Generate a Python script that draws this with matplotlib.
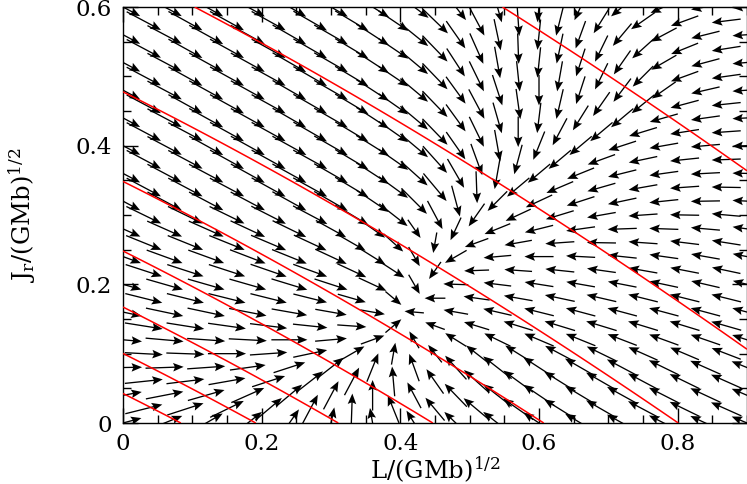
import numpy as np
import matplotlib
matplotlib.use("Agg")
import matplotlib.pyplot as plt
from matplotlib.ticker import MultipleLocator, FuncFormatter

plt.rcParams['font.family'] = ['DejaVu Serif']
plt.rcParams['mathtext.fontset'] = 'dejavuserif'

# lattice: column k at L = 0.03 k, row m at J = 0.02 m, only k%2 == m%2
L_STEP = 0.03
J_STEP = 0.02

# arrow direction (degrees) per row m (J = 0.02 m), left to right
ANGLE_ROWS = [
    [15, 22, 30, 38, 55, 78, 100, 122, 136, 142, 146, 149, 151, 153, 155, 157],
    [14, 18, 26, 40, 62, 88, 112, 130, 140, 145, 148, 150, 152, 154, 156],
    [10, 11, 16, 24, 40, 62, 90, 118, 134, 142, 146, 149, 151, 153, 155, 157],
    [6, 7, 10, 18, 38, 62, 95, 125, 138, 144, 148, 150, 152, 154, 156],
    [1, 2, 4, 8, 18, 38, 68, 110, 132, 142, 147, 150, 152, 154, 156, 158],
    [-3, -2, 0, 4, 12, 30, 80, 128, 142, 148, 152, 154, 156, 157, 159],
    [-5, -5, -4, -3, 0, 5, 20, 120, 148, 154, 157, 158, 159, 160, 161, 162],
    [-9, -9, -8, -7, -6, -4, 40, 160, 163, 163, 163, 163, 163, 163, 164],
    [-12, -12, -12, -11, -10, -10, -10, 175, 170, 167, 166, 165, 165, 165, 165, 165],
    [-14, -14, -14, -14, -14, -16, -40, 180, 172, 170, 168, 167, 166, 166, 166],
    [-16, -16, -16, -16, -17, -18, -25, -60, 178, 173, 171, 170, 169, 168, 167, 166],
    [-18, -18, -18, -19, -20, -25, -33, -125, -178, 176, 174, 172, 170, 169, 168],
    [-20, -20, -20, -21, -22, -25, -32, -60, -150, -175, 180, 177, 174, 172, 170, 169],
    [-22, -22, -22, -23, -25, -30, -42, -100, -160, -170, -176, 179, 176, 173, 171],
    [-24, -24, -24, -25, -26, -29, -35, -55, -115, -158, -166, -172, -178, 178, 175, 172],
    [-26, -26, -26, -27, -28, -31, -38, -62, -125, -155, -163, -170, -176, 179, 175],
    [-28, -28, -28, -28, -29, -30, -34, -45, -75, -135, -155, -162, -168, -174, -179, 177],
    [-28, -28, -28, -29, -29, -31, -36, -50, -88, -140, -157, -164, -170, -176, 179],
    [-28, -28, -28, -29, -29, -30, -33, -42, -60, -100, -140, -158, -166, -172, -177, 179],
    [-28, -28, -29, -29, -29, -31, -35, -48, -70, -105, -140, -160, -168, -174, -178],
    [-28, -28, -29, -29, -29, -30, -32, -40, -55, -80, -112, -140, -162, -170, -175, -178],
    [-28, -28, -29, -29, -30, -31, -35, -46, -64, -90, -118, -140, -163, -171, -176],
    [-28, -28, -29, -29, -30, -30, -33, -40, -54, -74, -97, -122, -140, -164, -172, -177],
    [-28, -29, -29, -29, -30, -31, -35, -46, -62, -82, -103, -125, -141, -165, -174],
    [-28, -28, -29, -29, -30, -30, -33, -40, -54, -72, -90, -108, -127, -145, -167, -176],
    [-28, -29, -29, -29, -30, -31, -34, -46, -64, -84, -100, -116, -135, -160, -172],
    [-28, -28, -29, -29, -30, -30, -33, -40, -57, -80, -96, -108, -125, -150, -165, -175],
    [-28, -29, -29, -29, -30, -31, -34, -46, -66, -88, -102, -116, -138, -158, -171],
    [-28, -28, -29, -29, -30, -30, -33, -39, -55, -78, -96, -110, -130, -152, -166, -176],
    [-28, -29, -29, -29, -30, -31, -34, -44, -62, -86, -104, -122, -145, -160, -173],
    [-28, -28, -29, -29, -30, -30, -32, -37, -52, -74, -96, -115, -140, -156, -170, -177],
]

# arrow length per row, in units of 0.001 (GMb)^1/2
LENGTH_ROWS = [
    [55, 55, 55, 52, 48, 46, 44, 42, 46, 52, 54, 52, 50, 48, 48, 48],
    [55, 55, 54, 50, 47, 45, 43, 43, 49, 53, 53, 51, 49, 48, 48],
    [55, 55, 55, 52, 48, 46, 44, 42, 46, 52, 54, 52, 50, 48, 48, 48],
    [55, 55, 54, 50, 47, 45, 43, 43, 49, 53, 53, 51, 49, 48, 48],
    [55, 55, 55, 52, 48, 46, 44, 42, 46, 52, 54, 52, 50, 48, 48, 48],
    [55, 55, 55, 54, 50, 42, 32, 32, 38, 44, 48, 47, 46, 45, 45],
    [55, 55, 55, 55, 52, 46, 36, 28, 36, 42, 46, 46, 45, 45, 45, 45],
    [55, 55, 55, 54, 50, 42, 30, 30, 38, 44, 46, 46, 45, 45, 45],
    [55, 55, 55, 55, 52, 46, 36, 28, 36, 42, 44, 44, 44, 44, 44, 44],
    [55, 55, 55, 54, 50, 42, 30, 30, 38, 42, 44, 44, 44, 44, 44],
    [55, 55, 55, 55, 54, 50, 44, 32, 36, 40, 42, 42, 42, 42, 42, 42],
    [55, 55, 55, 55, 52, 46, 38, 30, 36, 40, 42, 42, 42, 42, 42],
    [55, 55, 55, 55, 54, 50, 44, 32, 36, 40, 42, 42, 42, 42, 42, 42],
    [55, 55, 55, 55, 52, 46, 38, 30, 36, 40, 42, 42, 42, 42, 42],
    [55, 55, 55, 55, 54, 50, 44, 32, 36, 40, 42, 42, 42, 42, 42, 42],
    [56, 56, 56, 56, 56, 56, 52, 46, 40, 40, 42, 42, 42, 42, 42],
    [56, 56, 56, 56, 56, 56, 56, 52, 46, 40, 42, 42, 42, 42, 42, 42],
    [56, 56, 56, 56, 56, 56, 52, 52, 46, 42, 42, 42, 42, 42, 42],
    [56, 56, 56, 56, 56, 56, 56, 52, 48, 46, 42, 42, 42, 42, 42, 42],
    [56, 56, 56, 56, 56, 56, 52, 52, 48, 44, 42, 42, 42, 42, 42],
    [56, 56, 56, 56, 56, 56, 56, 52, 48, 46, 44, 42, 42, 42, 42, 42],
    [56, 56, 56, 56, 56, 56, 52, 52, 48, 44, 44, 42, 42, 42, 42],
    [56, 56, 56, 56, 56, 56, 56, 52, 48, 46, 44, 42, 42, 42, 42, 42],
    [56, 56, 56, 56, 56, 56, 52, 52, 48, 44, 44, 42, 42, 42, 42],
    [56, 56, 56, 56, 56, 56, 56, 52, 48, 46, 44, 42, 42, 42, 42, 42],
    [56, 56, 56, 56, 56, 56, 52, 52, 48, 44, 44, 42, 42, 42, 42],
    [56, 56, 56, 56, 56, 56, 56, 52, 48, 46, 44, 42, 42, 42, 42, 42],
    [56, 56, 56, 56, 56, 56, 52, 52, 48, 44, 44, 42, 42, 42, 42],
    [56, 56, 56, 56, 56, 56, 56, 52, 48, 46, 44, 42, 42, 42, 42, 42],
    [56, 56, 56, 56, 56, 56, 52, 52, 48, 44, 44, 42, 42, 42, 42],
    [56, 56, 56, 56, 56, 56, 56, 52, 48, 46, 44, 42, 42, 42, 42, 42],
]

# isochrone energy levels (GM/b units) of the red contours
ENERGY_LEVELS = [-0.460, -0.413, -0.367, -0.321, -0.275, -0.229, -0.183, -0.137]

X_TICKS = [0, 0.2, 0.4, 0.6, 0.8]
Y_TICKS = [0, 0.2, 0.4, 0.6]

xs, ys, us, vs = [], [], [], []
for m, (arow, lrow) in enumerate(zip(ANGLE_ROWS, LENGTH_ROWS)):
    ks = range(m % 2, 31, 2)
    for k, a, ln in zip(ks, arow, lrow):
        t = np.deg2rad(a)
        xs.append(k * L_STEP)
        ys.append(m * J_STEP)
        us.append(ln / 1000.0 * np.cos(t))
        vs.append(ln / 1000.0 * np.sin(t))

fig = plt.figure(figsize=(7.47, 4.84), dpi=100)
ax = fig.add_axes([123 / 747, 61 / 484, 624 / 747, 416 / 484])

ax.quiver(xs, ys, us, vs, angles='xy', scale_units='xy', scale=1, units='xy',
          width=0.0019, headwidth=6.5, headlength=8, headaxislength=6.8,
          pivot='middle', color='black', zorder=3)

Lg = np.linspace(0, 0.9, 500)
Jg = np.linspace(0, 0.6, 400)
LL, JJ = np.meshgrid(Lg, Jg)
H = -0.5 / (JJ + 0.5 * (LL + np.sqrt(LL ** 2 + 4.0))) ** 2
ax.contour(LL, JJ, H, levels=sorted(ENERGY_LEVELS), colors='red',
           linewidths=1.1, linestyles='solid', zorder=4)

ax.set_xlim(0, 0.9)
ax.set_ylim(0, 0.6)
ax.set_xticks(X_TICKS)
ax.set_yticks(Y_TICKS)
fmt = FuncFormatter(lambda v, p: '0' if abs(v) < 1e-9 else f'{v:g}')
ax.xaxis.set_major_formatter(fmt)
ax.yaxis.set_major_formatter(fmt)
ax.xaxis.set_minor_locator(MultipleLocator(0.05))
ax.yaxis.set_minor_locator(MultipleLocator(0.05))
ax.tick_params(which='both', direction='in', top=True, right=True,
               labelsize=16.5, width=1.0)
ax.tick_params(axis='x', which='major', pad=7)
ax.tick_params(axis='y', which='major', pad=8)
ax.tick_params(which='major', length=11)
ax.tick_params(which='minor', length=5.5)
for s in ax.spines.values():
    s.set_linewidth(1.0)

ax.set_xlabel(r'L/(GMb)$^{1/2}$', fontsize=17.5, labelpad=0)
ax.set_ylabel(r'J$_{\rm r}$/(GMb)$^{1/2}$', fontsize=17.5, labelpad=27)

fig.savefig('out.png', dpi=100)
